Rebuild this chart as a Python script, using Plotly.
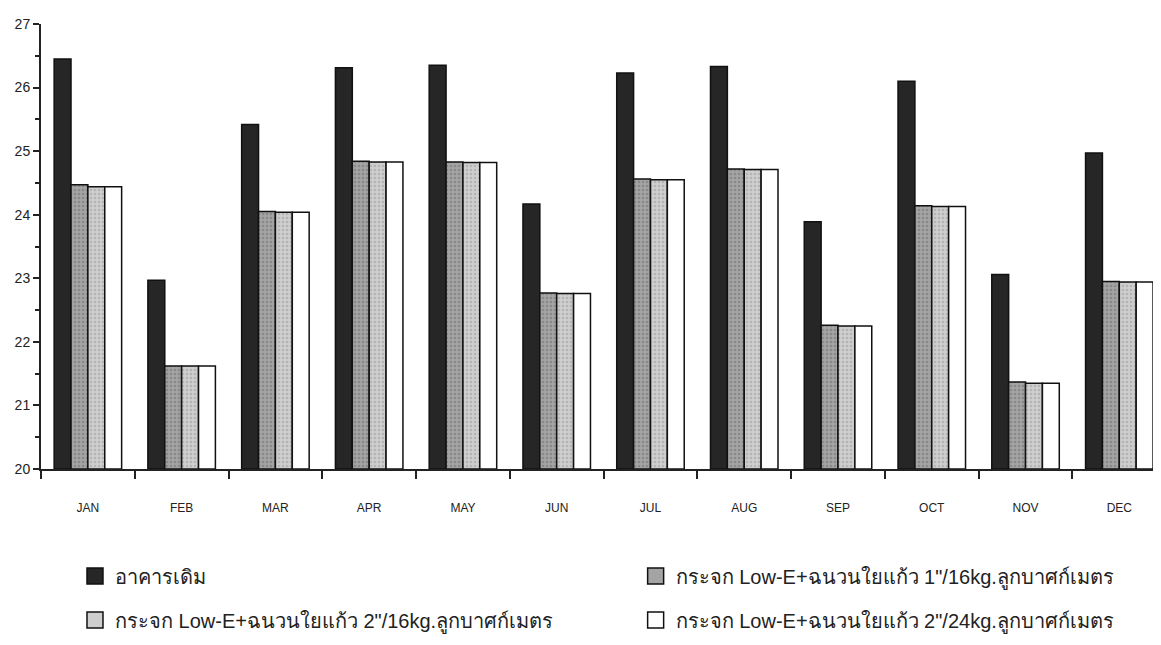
import plotly.graph_objects as go

months = ["JAN", "FEB", "MAR", "APR", "MAY", "JUN", "JUL", "AUG", "SEP", "OCT", "NOV", "DEC"]

series_names = [
    "อาคารเดิม",
    "กระจก Low-E+ฉนวนใยแก้ว 1\"/16kg.ลูกบาศก์เมตร",
    "กระจก Low-E+ฉนวนใยแก้ว 2\"/16kg.ลูกบาศก์เมตร",
    "กระจก Low-E+ฉนวนใยแก้ว 2\"/24kg.ลูกบาศก์เมตร",
]

original = [26.45, 22.97, 25.42, 26.31, 26.35, 24.17, 26.23, 26.33, 23.89, 26.10, 23.06, 24.97]
lowe_1in_16 = [24.47, 21.62, 24.05, 24.84, 24.83, 22.77, 24.56, 24.72, 22.26, 24.14, 21.37, 22.95]
lowe_2in_16 = [24.44, 21.62, 24.04, 24.83, 24.82, 22.76, 24.55, 24.71, 22.25, 24.13, 21.35, 22.94]
lowe_2in_24 = [24.44, 21.62, 24.04, 24.83, 24.82, 22.76, 24.55, 24.71, 22.25, 24.13, 21.35, 22.94]

values = [original, lowe_1in_16, lowe_2in_16, lowe_2in_24]
fills = ["#262626", "#a4a4a4", "#cecece", "#ffffff"]
pattern_fg = [None, "#6e6e6e", "#9a9a9a", None]
legends = ["legend", "legend2", "legend3", "legend4"]

fig = go.Figure()
for i, (name, vals, col, pfg, lg) in enumerate(zip(series_names, values, fills, pattern_fg, legends)):
    marker = dict(color=col, line=dict(color="#111111", width=1.5))
    if pfg:
        marker["pattern"] = dict(shape=".", fgcolor=pfg, bgcolor=col, size=4, solidity=0.35, fillmode="overlay")
    fig.add_trace(go.Bar(x=months, y=[v - 20 for v in vals], base=20, name=name, marker=marker,
                         legendgroup=f"g{i}", showlegend=False,
                         hovertemplate="%{x}: %{customdata}<extra></extra>", customdata=vals))
    # legend-only entry with a larger square swatch
    fig.add_trace(go.Scatter(x=[None], y=[None], mode="markers", name=name, legend=lg,
                             legendgroup=f"g{i}", showlegend=True, hoverinfo="skip",
                             marker=dict(symbol="square", size=16, color=col,
                                         line=dict(color="#111111", width=1.5))))

font_family = "Liberation Sans, Arial, Noto Sans, sans-serif"

legend_pos = {"legend": (0.0577, 0.1194), "legend2": (0.5406, 0.1194),
              "legend3": (0.0577, 0.0512), "legend4": (0.5406, 0.0512)}
legend_layout = {}
for key, (lx, ly) in legend_pos.items():
    legend_layout[key] = dict(orientation="h", xref="container", yref="container", x=lx, y=ly,
                              xanchor="left", yanchor="middle", font=dict(size=20, color="#222222"),
                              bgcolor="rgba(0,0,0,0)", itemsizing="trace")

fig.update_layout(
    width=1161, height=645,
    margin=dict(l=33, r=0, t=16, b=184),
    paper_bgcolor="white", plot_bgcolor="white",
    barmode="group", bargap=0.28, bargroupgap=0,
    font=dict(family=font_family, color="#222222"),
    xaxis=dict(
        range=[-0.5, 11.53], showline=True, linecolor="#222222", linewidth=2, automargin=False,
        ticks="outside", tickson="boundaries", ticklen=8, tickwidth=2, tickcolor="#222222",
        ticklabelstandoff=27, tickfont=dict(size=12, color="#222222"), showgrid=False,
    ),
    yaxis=dict(
        range=[20, 27], showline=True, linecolor="#222222", linewidth=2, automargin=False,
        ticks="outside", ticklen=6, tickwidth=2, tickcolor="#222222", dtick=1,
        tickfont=dict(size=14, color="#222222"), showgrid=False, zeroline=False,
        minor=dict(ticks="outside", dtick=0.5, ticklen=4, tickwidth=1.5, tickcolor="#222222"),
    ),
    showlegend=True,
    **legend_layout,
)

fig.write_html("out.html")
